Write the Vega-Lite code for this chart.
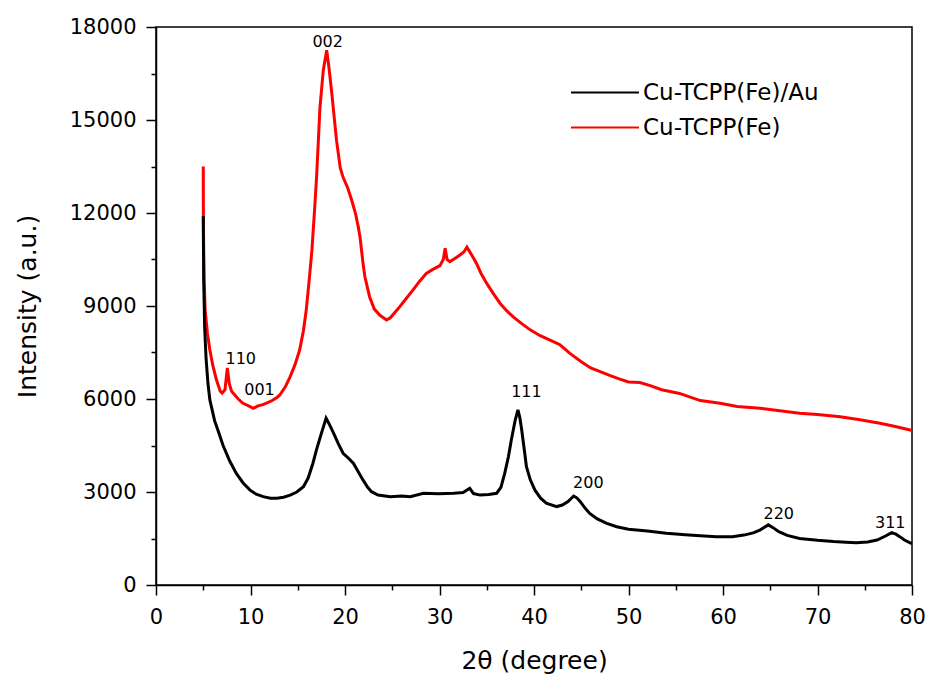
{
  "$schema": "https://vega.github.io/schema/vega-lite/v6.json",
  "width": 756,
  "height": 558,
  "autosize": {"type": "none"},
  "padding": {"left": 156, "top": 27, "right": 18, "bottom": 94},
  "background": "white",
  "config": {
    "font": "DejaVu Sans",
    "view": {"stroke": "black", "strokeWidth": 1.5},
    "axis": {"grid": false, "domainColor": "black", "domainWidth": 1.5, "tickColor": "black", "tickWidth": 1.5, "labelColor": "black", "titleColor": "black", "titleFontWeight": "normal"}
  },
  "datasets": {
    "xrd": [
      {"s": "Cu-TCPP(Fe)", "x": 5.0, "y": 13500},
      {"s": "Cu-TCPP(Fe)", "x": 5.02, "y": 11500},
      {"s": "Cu-TCPP(Fe)", "x": 5.08, "y": 10000},
      {"s": "Cu-TCPP(Fe)", "x": 5.2, "y": 8870},
      {"s": "Cu-TCPP(Fe)", "x": 5.45, "y": 8100},
      {"s": "Cu-TCPP(Fe)", "x": 5.7, "y": 7580},
      {"s": "Cu-TCPP(Fe)", "x": 6.0, "y": 7100},
      {"s": "Cu-TCPP(Fe)", "x": 6.4, "y": 6610},
      {"s": "Cu-TCPP(Fe)", "x": 6.8, "y": 6250},
      {"s": "Cu-TCPP(Fe)", "x": 7.0, "y": 6190},
      {"s": "Cu-TCPP(Fe)", "x": 7.3, "y": 6300},
      {"s": "Cu-TCPP(Fe)", "x": 7.55, "y": 7000},
      {"s": "Cu-TCPP(Fe)", "x": 7.75, "y": 6500},
      {"s": "Cu-TCPP(Fe)", "x": 8.0, "y": 6250},
      {"s": "Cu-TCPP(Fe)", "x": 8.2, "y": 6180},
      {"s": "Cu-TCPP(Fe)", "x": 8.7, "y": 6000},
      {"s": "Cu-TCPP(Fe)", "x": 9.2, "y": 5860},
      {"s": "Cu-TCPP(Fe)", "x": 9.8, "y": 5780},
      {"s": "Cu-TCPP(Fe)", "x": 10.3, "y": 5700},
      {"s": "Cu-TCPP(Fe)", "x": 10.8, "y": 5780},
      {"s": "Cu-TCPP(Fe)", "x": 11.3, "y": 5820},
      {"s": "Cu-TCPP(Fe)", "x": 11.7, "y": 5870},
      {"s": "Cu-TCPP(Fe)", "x": 12.3, "y": 5950},
      {"s": "Cu-TCPP(Fe)", "x": 12.8, "y": 6050},
      {"s": "Cu-TCPP(Fe)", "x": 13.1, "y": 6130},
      {"s": "Cu-TCPP(Fe)", "x": 13.7, "y": 6400},
      {"s": "Cu-TCPP(Fe)", "x": 14.2, "y": 6720},
      {"s": "Cu-TCPP(Fe)", "x": 14.7, "y": 7100},
      {"s": "Cu-TCPP(Fe)", "x": 15.2, "y": 7580},
      {"s": "Cu-TCPP(Fe)", "x": 15.6, "y": 8200},
      {"s": "Cu-TCPP(Fe)", "x": 15.9, "y": 8870},
      {"s": "Cu-TCPP(Fe)", "x": 16.2, "y": 9800},
      {"s": "Cu-TCPP(Fe)", "x": 16.5, "y": 10800},
      {"s": "Cu-TCPP(Fe)", "x": 16.8, "y": 12200},
      {"s": "Cu-TCPP(Fe)", "x": 17.0, "y": 13200},
      {"s": "Cu-TCPP(Fe)", "x": 17.35, "y": 15400},
      {"s": "Cu-TCPP(Fe)", "x": 17.7, "y": 16600},
      {"s": "Cu-TCPP(Fe)", "x": 18.06, "y": 17250},
      {"s": "Cu-TCPP(Fe)", "x": 18.3, "y": 16700},
      {"s": "Cu-TCPP(Fe)", "x": 18.6, "y": 15870},
      {"s": "Cu-TCPP(Fe)", "x": 19.1, "y": 14350},
      {"s": "Cu-TCPP(Fe)", "x": 19.5, "y": 13450},
      {"s": "Cu-TCPP(Fe)", "x": 19.8, "y": 13150},
      {"s": "Cu-TCPP(Fe)", "x": 20.3, "y": 12800},
      {"s": "Cu-TCPP(Fe)", "x": 20.7, "y": 12420},
      {"s": "Cu-TCPP(Fe)", "x": 21.1, "y": 12000},
      {"s": "Cu-TCPP(Fe)", "x": 21.4, "y": 11560},
      {"s": "Cu-TCPP(Fe)", "x": 21.6, "y": 11200},
      {"s": "Cu-TCPP(Fe)", "x": 21.9, "y": 10400},
      {"s": "Cu-TCPP(Fe)", "x": 22.1, "y": 9950},
      {"s": "Cu-TCPP(Fe)", "x": 22.6, "y": 9300},
      {"s": "Cu-TCPP(Fe)", "x": 23.1, "y": 8900},
      {"s": "Cu-TCPP(Fe)", "x": 23.7, "y": 8700},
      {"s": "Cu-TCPP(Fe)", "x": 24.4, "y": 8550},
      {"s": "Cu-TCPP(Fe)", "x": 24.8, "y": 8620},
      {"s": "Cu-TCPP(Fe)", "x": 25.3, "y": 8800},
      {"s": "Cu-TCPP(Fe)", "x": 25.8, "y": 8980},
      {"s": "Cu-TCPP(Fe)", "x": 26.5, "y": 9250},
      {"s": "Cu-TCPP(Fe)", "x": 27.2, "y": 9520},
      {"s": "Cu-TCPP(Fe)", "x": 27.9, "y": 9800},
      {"s": "Cu-TCPP(Fe)", "x": 28.6, "y": 10050},
      {"s": "Cu-TCPP(Fe)", "x": 29.3, "y": 10180},
      {"s": "Cu-TCPP(Fe)", "x": 30.05, "y": 10300},
      {"s": "Cu-TCPP(Fe)", "x": 30.4, "y": 10500},
      {"s": "Cu-TCPP(Fe)", "x": 30.6, "y": 10860},
      {"s": "Cu-TCPP(Fe)", "x": 30.8, "y": 10500},
      {"s": "Cu-TCPP(Fe)", "x": 31.1, "y": 10430},
      {"s": "Cu-TCPP(Fe)", "x": 31.7, "y": 10550},
      {"s": "Cu-TCPP(Fe)", "x": 32.2, "y": 10650},
      {"s": "Cu-TCPP(Fe)", "x": 32.6, "y": 10750},
      {"s": "Cu-TCPP(Fe)", "x": 32.9, "y": 10900},
      {"s": "Cu-TCPP(Fe)", "x": 33.4, "y": 10650},
      {"s": "Cu-TCPP(Fe)", "x": 33.9, "y": 10380},
      {"s": "Cu-TCPP(Fe)", "x": 34.4, "y": 10050},
      {"s": "Cu-TCPP(Fe)", "x": 35.0, "y": 9730},
      {"s": "Cu-TCPP(Fe)", "x": 35.7, "y": 9400},
      {"s": "Cu-TCPP(Fe)", "x": 36.4, "y": 9090},
      {"s": "Cu-TCPP(Fe)", "x": 37.1, "y": 8850},
      {"s": "Cu-TCPP(Fe)", "x": 37.8, "y": 8650},
      {"s": "Cu-TCPP(Fe)", "x": 38.7, "y": 8430},
      {"s": "Cu-TCPP(Fe)", "x": 39.6, "y": 8230},
      {"s": "Cu-TCPP(Fe)", "x": 40.6, "y": 8050},
      {"s": "Cu-TCPP(Fe)", "x": 41.7, "y": 7900},
      {"s": "Cu-TCPP(Fe)", "x": 42.75, "y": 7750},
      {"s": "Cu-TCPP(Fe)", "x": 43.8, "y": 7470},
      {"s": "Cu-TCPP(Fe)", "x": 45.0, "y": 7200},
      {"s": "Cu-TCPP(Fe)", "x": 46.0, "y": 7000},
      {"s": "Cu-TCPP(Fe)", "x": 47.0, "y": 6880},
      {"s": "Cu-TCPP(Fe)", "x": 48.0, "y": 6760},
      {"s": "Cu-TCPP(Fe)", "x": 49.0, "y": 6650},
      {"s": "Cu-TCPP(Fe)", "x": 50.0, "y": 6550},
      {"s": "Cu-TCPP(Fe)", "x": 51.2, "y": 6530},
      {"s": "Cu-TCPP(Fe)", "x": 52.3, "y": 6430},
      {"s": "Cu-TCPP(Fe)", "x": 53.5, "y": 6300},
      {"s": "Cu-TCPP(Fe)", "x": 55.4, "y": 6180},
      {"s": "Cu-TCPP(Fe)", "x": 57.6, "y": 5950},
      {"s": "Cu-TCPP(Fe)", "x": 59.7, "y": 5860},
      {"s": "Cu-TCPP(Fe)", "x": 61.5, "y": 5760},
      {"s": "Cu-TCPP(Fe)", "x": 63.9, "y": 5700},
      {"s": "Cu-TCPP(Fe)", "x": 66.0, "y": 5620},
      {"s": "Cu-TCPP(Fe)", "x": 68.1, "y": 5540},
      {"s": "Cu-TCPP(Fe)", "x": 70.0, "y": 5500},
      {"s": "Cu-TCPP(Fe)", "x": 72.4, "y": 5430},
      {"s": "Cu-TCPP(Fe)", "x": 74.5, "y": 5330},
      {"s": "Cu-TCPP(Fe)", "x": 76.6, "y": 5220},
      {"s": "Cu-TCPP(Fe)", "x": 78.0, "y": 5130},
      {"s": "Cu-TCPP(Fe)", "x": 79.8, "y": 5000},
      {"s": "Cu-TCPP(Fe)", "x": 80.0, "y": 4980},
      {"s": "Cu-TCPP(Fe)/Au", "x": 5.0, "y": 11900},
      {"s": "Cu-TCPP(Fe)/Au", "x": 5.05, "y": 9800},
      {"s": "Cu-TCPP(Fe)/Au", "x": 5.15, "y": 8300},
      {"s": "Cu-TCPP(Fe)/Au", "x": 5.3, "y": 7300},
      {"s": "Cu-TCPP(Fe)/Au", "x": 5.5, "y": 6500},
      {"s": "Cu-TCPP(Fe)/Au", "x": 5.7, "y": 5970},
      {"s": "Cu-TCPP(Fe)/Au", "x": 6.2, "y": 5300},
      {"s": "Cu-TCPP(Fe)/Au", "x": 6.6, "y": 4950},
      {"s": "Cu-TCPP(Fe)/Au", "x": 7.1, "y": 4500},
      {"s": "Cu-TCPP(Fe)/Au", "x": 7.8, "y": 4000},
      {"s": "Cu-TCPP(Fe)/Au", "x": 8.5, "y": 3600},
      {"s": "Cu-TCPP(Fe)/Au", "x": 9.2, "y": 3300},
      {"s": "Cu-TCPP(Fe)/Au", "x": 9.95, "y": 3060},
      {"s": "Cu-TCPP(Fe)/Au", "x": 10.6, "y": 2930},
      {"s": "Cu-TCPP(Fe)/Au", "x": 11.35, "y": 2850},
      {"s": "Cu-TCPP(Fe)/Au", "x": 12.1, "y": 2800},
      {"s": "Cu-TCPP(Fe)/Au", "x": 12.8, "y": 2800},
      {"s": "Cu-TCPP(Fe)/Au", "x": 13.5, "y": 2830},
      {"s": "Cu-TCPP(Fe)/Au", "x": 14.2, "y": 2900},
      {"s": "Cu-TCPP(Fe)/Au", "x": 14.9, "y": 3000},
      {"s": "Cu-TCPP(Fe)/Au", "x": 15.6, "y": 3170},
      {"s": "Cu-TCPP(Fe)/Au", "x": 16.1, "y": 3450},
      {"s": "Cu-TCPP(Fe)/Au", "x": 16.6, "y": 3920},
      {"s": "Cu-TCPP(Fe)/Au", "x": 17.0, "y": 4380},
      {"s": "Cu-TCPP(Fe)/Au", "x": 17.5, "y": 4890},
      {"s": "Cu-TCPP(Fe)/Au", "x": 18.0, "y": 5380},
      {"s": "Cu-TCPP(Fe)/Au", "x": 18.4, "y": 5150},
      {"s": "Cu-TCPP(Fe)/Au", "x": 18.8, "y": 4890},
      {"s": "Cu-TCPP(Fe)/Au", "x": 19.3, "y": 4550},
      {"s": "Cu-TCPP(Fe)/Au", "x": 19.8, "y": 4250},
      {"s": "Cu-TCPP(Fe)/Au", "x": 20.4, "y": 4080},
      {"s": "Cu-TCPP(Fe)/Au", "x": 20.9, "y": 3920},
      {"s": "Cu-TCPP(Fe)/Au", "x": 21.4, "y": 3650},
      {"s": "Cu-TCPP(Fe)/Au", "x": 21.9, "y": 3390},
      {"s": "Cu-TCPP(Fe)/Au", "x": 22.4, "y": 3150},
      {"s": "Cu-TCPP(Fe)/Au", "x": 22.8, "y": 3010},
      {"s": "Cu-TCPP(Fe)/Au", "x": 23.5, "y": 2900},
      {"s": "Cu-TCPP(Fe)/Au", "x": 24.8, "y": 2850},
      {"s": "Cu-TCPP(Fe)/Au", "x": 26.0, "y": 2870},
      {"s": "Cu-TCPP(Fe)/Au", "x": 26.9, "y": 2850},
      {"s": "Cu-TCPP(Fe)/Au", "x": 28.3, "y": 2960},
      {"s": "Cu-TCPP(Fe)/Au", "x": 29.9, "y": 2940},
      {"s": "Cu-TCPP(Fe)/Au", "x": 31.5, "y": 2960},
      {"s": "Cu-TCPP(Fe)/Au", "x": 32.5, "y": 2980},
      {"s": "Cu-TCPP(Fe)/Au", "x": 33.2, "y": 3120},
      {"s": "Cu-TCPP(Fe)/Au", "x": 33.6, "y": 2950},
      {"s": "Cu-TCPP(Fe)/Au", "x": 34.3, "y": 2900},
      {"s": "Cu-TCPP(Fe)/Au", "x": 35.2, "y": 2920},
      {"s": "Cu-TCPP(Fe)/Au", "x": 36.05, "y": 2960},
      {"s": "Cu-TCPP(Fe)/Au", "x": 36.5, "y": 3150},
      {"s": "Cu-TCPP(Fe)/Au", "x": 36.9, "y": 3600},
      {"s": "Cu-TCPP(Fe)/Au", "x": 37.3, "y": 4150},
      {"s": "Cu-TCPP(Fe)/Au", "x": 37.6, "y": 4680},
      {"s": "Cu-TCPP(Fe)/Au", "x": 38.0, "y": 5300},
      {"s": "Cu-TCPP(Fe)/Au", "x": 38.3, "y": 5650},
      {"s": "Cu-TCPP(Fe)/Au", "x": 38.5, "y": 5400},
      {"s": "Cu-TCPP(Fe)/Au", "x": 38.7, "y": 5000},
      {"s": "Cu-TCPP(Fe)/Au", "x": 39.0, "y": 4300},
      {"s": "Cu-TCPP(Fe)/Au", "x": 39.2, "y": 3820},
      {"s": "Cu-TCPP(Fe)/Au", "x": 39.6, "y": 3400},
      {"s": "Cu-TCPP(Fe)/Au", "x": 40.1, "y": 3060},
      {"s": "Cu-TCPP(Fe)/Au", "x": 40.7, "y": 2800},
      {"s": "Cu-TCPP(Fe)/Au", "x": 41.3, "y": 2640},
      {"s": "Cu-TCPP(Fe)/Au", "x": 42.4, "y": 2530},
      {"s": "Cu-TCPP(Fe)/Au", "x": 43.0, "y": 2580},
      {"s": "Cu-TCPP(Fe)/Au", "x": 43.6, "y": 2690},
      {"s": "Cu-TCPP(Fe)/Au", "x": 44.2, "y": 2870},
      {"s": "Cu-TCPP(Fe)/Au", "x": 44.5, "y": 2820},
      {"s": "Cu-TCPP(Fe)/Au", "x": 44.9, "y": 2690},
      {"s": "Cu-TCPP(Fe)/Au", "x": 45.4, "y": 2480},
      {"s": "Cu-TCPP(Fe)/Au", "x": 45.9, "y": 2310},
      {"s": "Cu-TCPP(Fe)/Au", "x": 46.7, "y": 2130},
      {"s": "Cu-TCPP(Fe)/Au", "x": 47.7, "y": 1990},
      {"s": "Cu-TCPP(Fe)/Au", "x": 48.75, "y": 1880},
      {"s": "Cu-TCPP(Fe)/Au", "x": 50.0, "y": 1800},
      {"s": "Cu-TCPP(Fe)/Au", "x": 52.0, "y": 1740},
      {"s": "Cu-TCPP(Fe)/Au", "x": 54.0, "y": 1670},
      {"s": "Cu-TCPP(Fe)/Au", "x": 56.0, "y": 1620},
      {"s": "Cu-TCPP(Fe)/Au", "x": 58.0, "y": 1580},
      {"s": "Cu-TCPP(Fe)/Au", "x": 59.3, "y": 1560},
      {"s": "Cu-TCPP(Fe)/Au", "x": 61.0, "y": 1560},
      {"s": "Cu-TCPP(Fe)/Au", "x": 62.2, "y": 1610},
      {"s": "Cu-TCPP(Fe)/Au", "x": 63.2, "y": 1680},
      {"s": "Cu-TCPP(Fe)/Au", "x": 63.9, "y": 1770},
      {"s": "Cu-TCPP(Fe)/Au", "x": 64.8, "y": 1940},
      {"s": "Cu-TCPP(Fe)/Au", "x": 65.3, "y": 1850},
      {"s": "Cu-TCPP(Fe)/Au", "x": 65.9, "y": 1720},
      {"s": "Cu-TCPP(Fe)/Au", "x": 66.8, "y": 1600},
      {"s": "Cu-TCPP(Fe)/Au", "x": 68.1, "y": 1500},
      {"s": "Cu-TCPP(Fe)/Au", "x": 70.0, "y": 1440},
      {"s": "Cu-TCPP(Fe)/Au", "x": 71.7, "y": 1400},
      {"s": "Cu-TCPP(Fe)/Au", "x": 73.0, "y": 1380},
      {"s": "Cu-TCPP(Fe)/Au", "x": 74.1, "y": 1360},
      {"s": "Cu-TCPP(Fe)/Au", "x": 75.3, "y": 1390},
      {"s": "Cu-TCPP(Fe)/Au", "x": 76.3, "y": 1450},
      {"s": "Cu-TCPP(Fe)/Au", "x": 77.2, "y": 1580},
      {"s": "Cu-TCPP(Fe)/Au", "x": 77.85, "y": 1690},
      {"s": "Cu-TCPP(Fe)/Au", "x": 78.3, "y": 1640},
      {"s": "Cu-TCPP(Fe)/Au", "x": 78.7, "y": 1560},
      {"s": "Cu-TCPP(Fe)/Au", "x": 79.2, "y": 1450},
      {"s": "Cu-TCPP(Fe)/Au", "x": 79.8, "y": 1360},
      {"s": "Cu-TCPP(Fe)/Au", "x": 80.0, "y": 1340}
    ],
    "peaks": [
      {"label": "002", "x": 18.17, "y": 17530},
      {"label": "110", "x": 8.97, "y": 7290},
      {"label": "001", "x": 10.95, "y": 6290},
      {"label": "111", "x": 39.2, "y": 6240},
      {"label": "200", "x": 45.75, "y": 3280},
      {"label": "220", "x": 65.9, "y": 2290},
      {"label": "311", "x": 77.7, "y": 1990}
    ]
  },
  "layer": [
    {
      "data": {"name": "xrd"},
      "mark": {"type": "line", "strokeWidth": 3},
      "encoding": {
        "x": {
          "field": "x", "type": "quantitative",
          "scale": {"domain": [0, 80], "nice": false},
          "axis": {"values": [0, 10, 20, 30, 40, 50, 60, 70, 80], "tickSize": 10, "labelFontSize": 21, "labelPadding": 11, "labelFlush": false, "title": "2θ (degree)", "titleFontSize": 25, "titleY": 75, "titleBaseline": "middle"}
        },
        "y": {
          "field": "y", "type": "quantitative",
          "scale": {"domain": [0, 18000], "nice": false},
          "axis": {"values": [0, 3000, 6000, 9000, 12000, 15000, 18000], "format": "d", "tickSize": 10, "labelFontSize": 21, "labelPadding": 10, "labelFlush": false, "title": "Intensity (a.u.)", "titleFontSize": 25, "titleX": -129, "titleY": 279, "titleBaseline": "middle", "titleAlign": "center"}
        },
        "color": {
          "field": "s", "type": "nominal",
          "scale": {"domain": ["Cu-TCPP(Fe)/Au", "Cu-TCPP(Fe)"], "range": ["#000000", "#ff0000"]},
          "legend": {"orient": "none", "legendX": 414, "legendY": 53, "title": null, "symbolType": "stroke", "symbolSize": 4624, "symbolStrokeWidth": 2, "labelFontSize": 23, "labelColor": "black", "labelOffset": 3, "labelLimit": 400, "clipHeight": 25, "rowPadding": 10, "padding": 0}
        }
      }
    },
    {
      "data": {"name": "peaks"},
      "mark": {"type": "text", "fontSize": 16, "align": "center", "baseline": "middle", "color": "black"},
      "encoding": {
        "x": {
          "field": "x", "type": "quantitative",
          "axis": {"orient": "bottom", "values": [5, 15, 25, 35, 45, 55, 65, 75], "labels": false, "domain": false, "tickSize": 5, "title": null}
        },
        "y": {
          "field": "y", "type": "quantitative",
          "axis": {"orient": "left", "values": [1500, 4500, 7500, 10500, 13500, 16500], "labels": false, "domain": false, "tickSize": 5, "title": null}
        },
        "text": {"field": "label", "type": "nominal"}
      }
    }
  ],
  "resolve": {"axis": {"x": "independent", "y": "independent"}}
}
